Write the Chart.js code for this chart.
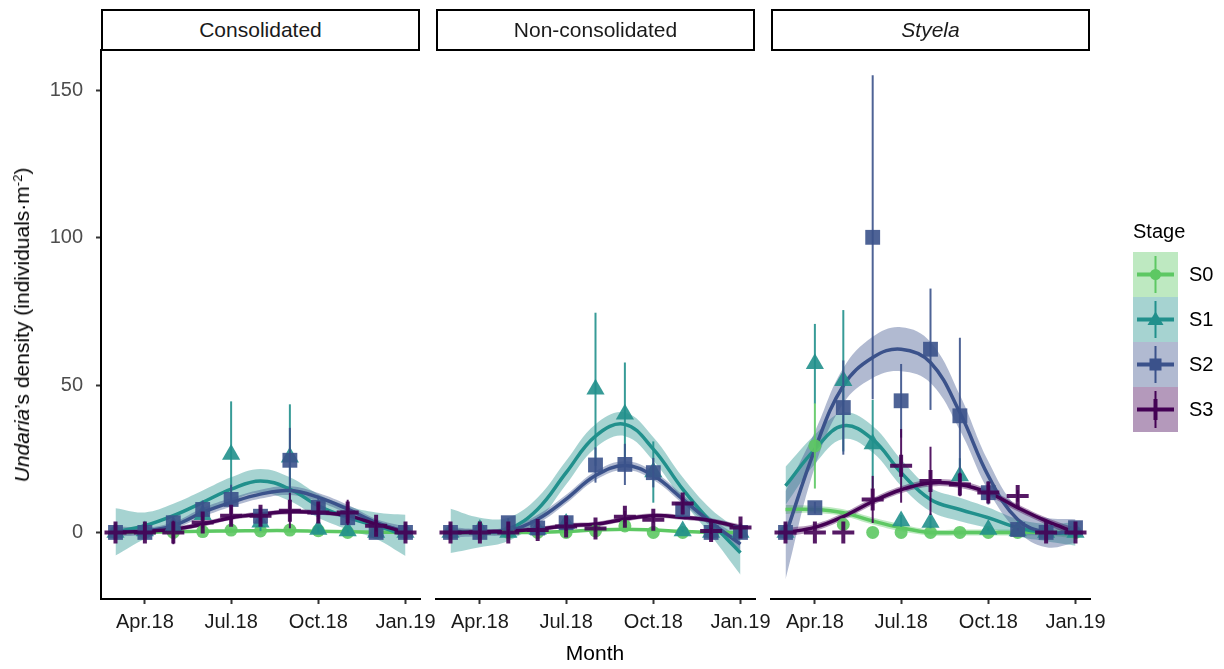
<!DOCTYPE html>
<html>
<head>
<meta charset="utf-8">
<script src="https://cdn.jsdelivr.net/npm/chart.js@4.4.1/dist/chart.umd.min.js"></script>
<style>
html,body{margin:0;padding:0;background:#fff;}
#wrap{position:relative;width:1224px;height:669px;overflow:hidden;font-family:"Liberation Sans",Arial,sans-serif;background:#fff;}
canvas{position:absolute;left:0;top:0;width:1224px;height:669px;}
.strip{position:absolute;top:9px;height:42px;box-sizing:border-box;border:2px solid #000;background:#fff;font-size:21px;color:#1a1a1a;display:flex;align-items:center;justify-content:center;z-index:5;}
#ytitle{position:absolute;left:22px;top:325px;transform:translate(-50%,-50%) rotate(-90deg);white-space:nowrap;font-size:21px;color:#000;z-index:5;}
#ytitle sup{font-size:0.62em;vertical-align:0.55em;line-height:0;}
#xtitle{position:absolute;left:595px;top:653px;transform:translate(-50%,-50%);font-size:21px;color:#000;white-space:nowrap;}
#legtitle{position:absolute;left:1133px;top:220px;font-size:20px;line-height:22px;color:#000;}
.lkey{position:absolute;left:1133px;width:45px;height:45px;}
.llab{position:absolute;left:1189px;font-size:20px;line-height:45px;height:45px;color:#000;}
</style>
</head>
<body>
<div id="wrap">
  <canvas id="c1" width="1224" height="669"></canvas>
  <canvas id="c2" width="1224" height="669"></canvas>
  <canvas id="c3" width="1224" height="669"></canvas>
  <div id="strips"></div>
  <div id="ytitle"><i>Undaria</i>’s density (individuals·m<sup>-2</sup>)</div>
  <div id="xtitle">Month</div>
  <div id="legtitle">Stage</div>
  <div id="legend"></div>
</div>
<script>
// ---------------- data ----------------
const monthDays = [59, 90, 120, 151, 181, 212, 243, 273, 304, 334, 365]; // days since 1 Jan 2018 (Mar.18 ... Jan.19)
const stageNames = ['S0', 'S1', 'S2', 'S3'];
const panelNames = ['Consolidated', 'Non-consolidated', 'Styela'];
const tickDays = [90, 181, 273, 365];
const tickLabels = ['Apr.18', 'Jul.18', 'Oct.18', 'Jan.19'];
const yTickValues = [0, 50, 100, 150];

// Consolidated: observed means, standard errors, smooth fit, smooth ribbon half-width (rows S0..S3)
const consMean = [
  [0, 0, 0, 0.3, 0.8, 0.5, 0.8, 0.6, 0, 0, 0],
  [0, 0.5, 2, 6, 26.5, 3.5, 25.5, 1, 0.5, 0, 0],
  [0, 0, 3.3, 7.8, 11.2, 5.5, 24.5, 8.5, 5, 0, 0],
  [0, 0, 0, 3.4, 5.7, 5.7, 7.4, 6.8, 6.8, 2.3, 0]
];
const consSe = [
  [0, 0, 0, 0.3, 0.5, 0.4, 0.5, 0.4, 0, 0, 0],
  [0, 0.5, 1.5, 3, 18, 3, 18, 1, 0.5, 0, 0],
  [0, 0, 2, 3, 5, 3, 11, 4, 2.5, 0, 0],
  [0, 0, 4, 2, 3, 2, 6, 3, 4.3, 2, 0]
];
const consFit = [
  [0, 0.1, 0.2, 0.4, 0.5, 0.6, 0.6, 0.4, 0.2, 0.1, 0],
  [0.2, 2.3, 5.7, 10.2, 14.7, 17.5, 14.7, 9, 5, 2.3, -1],
  [0.3, 0.5, 2.3, 6.8, 10.2, 13, 14.2, 11.9, 7.9, 3.4, 0.2],
  [0, 0.4, 1.1, 2.8, 5, 6.2, 7, 6.8, 5.7, 2.8, 0]
];
const consFitSe = [
  [0.6, 0.4, 0.4, 0.4, 0.4, 0.4, 0.4, 0.4, 0.4, 0.4, 0.6],
  [8, 4.5, 4, 4, 4, 4, 4, 4, 4, 4.5, 7],
  [1.8, 1.2, 1.2, 1.5, 1.5, 1.5, 1.5, 1.5, 1.5, 1.2, 1.8],
  [1, 0.8, 0.8, 0.8, 0.8, 0.8, 0.8, 0.8, 0.8, 0.8, 1]
];

// Non-consolidated
const noncMean = [
  [0, 0, 0, 0, 0, 0.5, 2.2, 0, 0, 0, 0],
  [0, 1, 0, 1, 3, 48.6, 40.1, 20.5, 0.5, 0, 0],
  [0, 0, 3.3, 1.5, 3.3, 22.9, 23.1, 20.3, 7.8, 0, 0],
  [0, 0, 0, 0.8, 2, 1.3, 5.3, 4.3, 9.8, 0.5, 1.7]
];
const noncSe = [
  [0, 0, 0, 0, 0, 0.5, 1, 0, 0, 0, 0],
  [0, 0.5, 0, 0.5, 1, 26, 17.6, 10.4, 0.3, 0, 0],
  [0, 0, 1.5, 1, 1.5, 6, 7, 5, 2.5, 0, 0],
  [1, 1, 1, 1, 1.5, 1, 2, 1, 2, 1, 1]
];
const noncFit = [
  [0, 0, 0, 0, 0.3, 0.8, 1.1, 0.8, 0.3, 0, 0],
  [0.5, 0, 1.1, 7.9, 20.3, 32.7, 36.7, 28.3, 14.7, 3.4, -6.9],
  [0, 0, 0.5, 4.5, 11.3, 19.3, 22.7, 19.3, 11.3, 3.4, -4],
  [0, 0.2, 0.5, 1.1, 2.3, 2.8, 4.5, 5.7, 5.1, 4, 1.7]
];
const noncFitSe = [
  [0.6, 0.4, 0.4, 0.4, 0.4, 0.4, 0.4, 0.4, 0.4, 0.4, 0.6],
  [7.5, 5, 4, 4, 4, 4, 4, 4, 4, 4.5, 7.5],
  [1.8, 1.2, 1.2, 1.5, 1.5, 1.5, 1.5, 1.5, 1.5, 1.5, 2],
  [1, 0.8, 0.8, 0.8, 0.8, 0.8, 0.8, 0.8, 0.8, 0.8, 1]
];

// Styela
const styMean = [
  [0, 29.4, 2.7, 0, 0, 0, 0, 0, 0, 0, 0],
  [0, 57.3, 51.5, 30, 3.9, 3.4, 19.2, 1, 0.5, 0, 0],
  [0, 8.4, 42.4, 100.2, 44.7, 62.2, 39.6, 13.5, 1, 0, 1.6],
  [0, 0, 0, 11.2, 22.6, 17.5, 16.3, 13.6, 12.4, 0, 0]
];
const stySe = [
  [0, 14.5, 1.5, 0, 0, 0, 0, 0, 0, 0, 0],
  [0, 13.5, 24, 15, 2, 2, 6, 0.5, 0.3, 0, 0],
  [0, 2, 16, 55, 12.5, 20.6, 26.5, 4, 0.5, 0, 1],
  [0, 0, 0, 8, 12.5, 11.6, 4, 3, 2, 0, 0]
];
const styFit = [
  [7.8, 7.8, 6.7, 3.9, 1.6, 0, 0, 0, 0, 0, -0.5],
  [15.8, 28.2, 36.2, 31.6, 20.3, 11.2, 7.8, 5, 1.6, 0, -0.5],
  [-1, 28.2, 49.8, 59.4, 62.2, 57.7, 40.7, 19.2, 4.4, 0, 0.5],
  [0, 1.7, 5.4, 10.5, 14.5, 16.8, 16.3, 13.5, 8.4, 3.9, 0]
];
const styFitSe = [
  [1.5, 1.2, 1.2, 1.2, 1.2, 1, 1, 1, 1, 1, 1.5],
  [6.5, 5, 4.5, 4.5, 4.5, 4, 4, 3.5, 3, 3, 4],
  [15, 6, 6, 7, 7.5, 7, 6, 5, 4, 5, 4],
  [1.5, 1.2, 1.2, 1.2, 1.2, 1.2, 1.2, 1.2, 1.2, 1.2, 1.5]
];

// ---------------- styling ----------------
const stageColors = [[93, 200, 99], [33, 144, 140], [59, 82, 139], [68, 1, 84]];
const stageStyles = ['circle', 'triangle', 'rect', 'cross'];
const stageRadii = [6.5, 10.5, 10.5, 11];
const rgba = (c, a) => `rgba(${c[0]},${c[1]},${c[2]},${a})`;

const X_MIN = 43.7, X_MAX = 380.3, Y_MIN = -22.6, Y_MAX = 163.8;
const panelBox = [[101, 420], [436, 755], [771, 1090]];

Chart.defaults.font.family = "'Liberation Sans', Arial, sans-serif";

const errorBarPlugin = {
  id: 'errorBars',
  beforeDatasetDraw(chart, args) {
    const ds = chart.data.datasets[args.index];
    if (!ds.seValues) return;
    const ys = chart.scales.y, ctx = chart.ctx, ca = chart.chartArea;
    ctx.save();
    ctx.beginPath();
    ctx.rect(ca.left, ca.top, ca.right - ca.left, ca.bottom - ca.top);
    ctx.clip();
    ctx.strokeStyle = ds.barColor;
    ctx.lineWidth = 2;
    args.meta.data.forEach((pt, i) => {
      const v = ds.data[i].y, s = ds.seValues[i];
      if (!s) return;
      ctx.beginPath();
      ctx.moveTo(pt.x, ys.getPixelForValue(v - s));
      ctx.lineTo(pt.x, ys.getPixelForValue(v + s));
      ctx.stroke();
    });
    ctx.restore();
  }
};

function buildDatasets(mean, se, fit, fitSe) {
  const ds = [];
  stageNames.forEach((name, s) => {
    const col = stageColors[s];
    ds.push({
      label: name + ' ribbon hi',
      data: monthDays.map((d, i) => ({x: d, y: fit[s][i] + fitSe[s][i]})),
      borderWidth: 0, pointRadius: 0, tension: 0.4,
      fill: '+1', backgroundColor: rgba(col, 0.4), borderColor: 'rgba(0,0,0,0)',
      order: 30 + (3 - s)
    });
    ds.push({
      label: name + ' ribbon lo',
      data: monthDays.map((d, i) => ({x: d, y: fit[s][i] - fitSe[s][i]})),
      borderWidth: 0, pointRadius: 0, tension: 0.4, fill: false,
      borderColor: 'rgba(0,0,0,0)', order: 30 + (3 - s)
    });
    ds.push({
      label: name + ' smooth',
      data: monthDays.map((d, i) => ({x: d, y: fit[s][i]})),
      borderWidth: 3.5, borderColor: rgba(col, 1), pointRadius: 0, tension: 0.4, fill: false,
      order: 20 + (3 - s)
    });
    ds.push({
      label: name,
      data: monthDays.map((d, i) => ({x: d, y: mean[s][i]})),
      showLine: false,
      pointStyle: stageStyles[s],
      pointRadius: stageRadii[s],
      pointBackgroundColor: rgba(col, 0.9),
      pointBorderColor: rgba(col, 0.9),
      pointBorderWidth: s === 3 ? 4 : 0,
      seValues: se[s],
      barColor: rgba(col, 0.9),
      order: 10 + (3 - s)
    });
  });
  return ds;
}

function makePanel(id, mean, se, fit, fitSe, p, showY) {
  const [L, R] = panelBox[p];
  return new Chart(document.getElementById(id), {
    type: 'line',
    data: {datasets: buildDatasets(mean, se, fit, fitSe)},
    plugins: [errorBarPlugin],
    options: {
      responsive: false, animation: false, events: [], devicePixelRatio: 1,
      layout: {padding: {left: showY ? 0 : L, right: 1224 - R, top: 50, bottom: 0}},
      plugins: {legend: {display: false}, tooltip: {enabled: false}},
      scales: {
        x: {
          type: 'linear', min: X_MIN, max: X_MAX,
          afterBuildTicks: sc => { sc.ticks = tickDays.map(v => ({value: v})); },
          afterFit: sc => { sc.height = 70; sc.paddingLeft = 0; sc.paddingRight = 0; },
          ticks: {autoSkip: false, maxRotation: 0, minRotation: 0, padding: 6, color: '#1a1a1a',
                  font: {size: 20}, callback: (v, i) => tickLabels[i]},
          grid: {drawOnChartArea: false, drawTicks: true, tickLength: 5, tickColor: '#333', tickWidth: 2},
          border: {display: true, color: '#000', width: 2}
        },
        y: {
          type: 'linear', min: Y_MIN, max: Y_MAX, display: showY,
          afterBuildTicks: sc => { sc.ticks = yTickValues.map(v => ({value: v})); },
          afterFit: sc => { sc.width = showY ? L : 0; },
          ticks: {padding: 13, color: '#4d4d4d', font: {size: 20}, callback: (v, i) => String(yTickValues[i])},
          grid: {drawOnChartArea: false, drawTicks: true, tickLength: 5, tickColor: '#333', tickWidth: 2},
          border: {display: true, color: '#000', width: 2}
        }
      }
    }
  });
}

makePanel('c1', consMean, consSe, consFit, consFitSe, 0, true);
makePanel('c2', noncMean, noncSe, noncFit, noncFitSe, 1, false);
makePanel('c3', styMean, stySe, styFit, styFitSe, 2, false);

// strips
const strips = document.getElementById('strips');
panelNames.forEach((n, p) => {
  const d = document.createElement('div');
  d.className = 'strip';
  d.style.left = panelBox[p][0] + 'px';
  d.style.width = (panelBox[p][1] - panelBox[p][0]) + 'px';
  if (n === 'Styela') { const i = document.createElement('i'); i.textContent = n; d.appendChild(i); }
  else d.textContent = n;
  strips.appendChild(d);
});

// legend
const leg = document.getElementById('legend');
stageNames.forEach((n, s) => {
  const col = stageColors[s];
  const top = 252 + s * 45;
  let marker = '';
  const c = rgba(col, 1);
  if (s === 0) marker = `<circle cx="22.5" cy="22.5" r="5.5" fill="${c}"/>`;
  if (s === 1) marker = `<polygon points="22.5,14.5 30.5,28 14.5,28" fill="${c}"/>`;
  if (s === 2) marker = `<rect x="16.5" y="16.5" width="12" height="12" fill="${c}"/>`;
  if (s === 3) marker = `<line x1="22.5" y1="12" x2="22.5" y2="33" stroke="${c}" stroke-width="4"/>`;
  const k = document.createElement('div');
  k.className = 'lkey';
  k.style.top = top + 'px';
  k.style.background = rgba(col, 0.4);
  k.innerHTML = `<svg width="45" height="45" viewBox="0 0 45 45">
    <line x1="4" y1="22.5" x2="41" y2="22.5" stroke="${c}" stroke-width="4"/>
    <line x1="22.5" y1="4" x2="22.5" y2="41" stroke="${c}" stroke-width="2"/>${marker}</svg>`;
  leg.appendChild(k);
  const l = document.createElement('div');
  l.className = 'llab';
  l.style.top = top + 'px';
  l.textContent = n;
  leg.appendChild(l);
});
</script>
</body>
</html>
